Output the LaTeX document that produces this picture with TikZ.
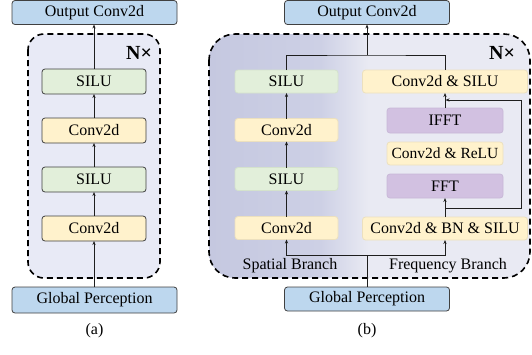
\documentclass[tikz,border=0pt]{standalone}
\usepackage{fontspec}
\setmainfont{Liberation Serif}
\newfontfamily\figfont{Liberation Serif}
\usepackage{xcolor}
\usetikzlibrary{arrows.meta}

\definecolor{custcol_bgL}{RGB}{197, 200, 224}
\definecolor{custcol_bgM}{RGB}{205, 208, 229}
\definecolor{custcol_bgR}{RGB}{233, 234, 243}
\pgfdeclarehorizontalshading{branchfade}{100bp}{color(0bp)=(custcol_bgL); color(25bp)=(custcol_bgL); color(60bp)=(custcol_bgM); color(75bp)=(custcol_bgR); color(100bp)=(custcol_bgR)}

\begin{document}
\begin{tikzpicture}[x=1pt,y=-1pt,
  font=\figfont\fontsize{16pt}{18pt}\selectfont,
  arr/.style={-{Stealth[length=4pt,width=3.2pt]}, line width=0.8pt, custcol_line},
  wire/.style={line width=0.8pt, custcol_line},
  blk/.style={rounded corners=3pt, inner sep=0, outer sep=0, line width=0.8pt},
  bluebox/.style={blk, draw=custcol_dark, fill=custcol_blue, minimum width=165pt, minimum height=24pt},
  yelA/.style={blk, draw=custcol_dark, fill=custcol_yel, minimum width=104pt, minimum height=25pt},
  grnA/.style={blk, draw=custcol_dark, fill=custcol_grn, minimum width=104pt, minimum height=25pt},
  yelB/.style={blk, draw=custcol_yelline, fill=custcol_yel, minimum height=23pt},
  grnB/.style={blk, draw=custcol_grnline, fill=custcol_grn, minimum height=23pt},
  purB/.style={blk, draw=custcol_purline, fill=custcol_pur, minimum height=25pt},
  dashbox/.style={draw=black, line width=1.6pt, dash pattern=on 6pt off 4pt}]
\definecolor{custcol_line}{RGB}{30, 30, 30}
\definecolor{custcol_dark}{RGB}{64, 64, 64}
\definecolor{custcol_blue}{RGB}{189, 215, 238}
\definecolor{custcol_yel}{RGB}{255, 242, 204}
\definecolor{custcol_yelline}{RGB}{236, 224, 190}
\definecolor{custcol_grn}{RGB}{226, 239, 218}
\definecolor{custcol_grnline}{RGB}{212, 226, 204}
\definecolor{custcol_pur}{RGB}{210, 193, 225}
\definecolor{custcol_purline}{RGB}{200, 184, 216}
\definecolor{custcol_bgA}{RGB}{232, 234, 246}
\useasboundingbox (0,0) rectangle (532,354);
% (a) plain stack
\fill [custcol_bgA, rounded corners=16pt]  (28,34) rectangle (160,278) ;
\draw [dashbox, rounded corners=16pt]  (28,34) rectangle (160,278) ;
\node[font=\figfont\fontsize{20pt}{20pt}\selectfont\bfseries] (nA) at (139,53) {N\texttimes};
\node[bluebox] (outA) at (94.5,12.5) {Output Conv2d};
\node[grnA] (silA2) at (94,81.5) {SILU};
\node[yelA] (convA2) at (94,130.5) {Conv2d};
\node[grnA] (silA1) at (94,179.5) {SILU};
\node[yelA] (convA1) at (94,228.5) {Conv2d};
\node[bluebox, minimum height=26pt] (gpA) at (94.5,300) {Global Perception};
\node (capA) at (94.5,331) {(a)};
\draw [arr] (gpA.north -| convA1) -- (convA1.south) ;
\draw [arr] (convA1.north) -- (silA1.south) ;
\draw [arr] (silA1.north) -- (convA2.south) ;
\draw [arr] (convA2.north) -- (silA2.south) ;
\draw [arr] (silA2.north) -- (silA2.north |- outA.south) ;
% (b) two branches
\fill [custcol_bgR, rounded corners=26pt]  (209,34) rectangle (530,278) ;
\begin{scope}
\clip [rounded corners=26pt]  (209,34) rectangle (530,278) ;
\shade [shading=branchfade]  (209,34) rectangle (368,278) ;
\end{scope}
\draw [dashbox, rounded corners=26pt]  (209,34) rectangle (530,278) ;
\node[font=\figfont\fontsize{20pt}{20pt}\selectfont\bfseries] (nB) at (502,53) {N\texttimes};
\node[bluebox] (outB) at (367,12.5) {Output Conv2d};
\node[grnB, minimum width=103pt] (silB2) at (286.5,81.5) {SILU};
\node[yelB, minimum width=103pt] (convB2) at (286.5,130) {Conv2d};
\node[grnB, minimum width=103pt] (silB1) at (286.5,179) {SILU};
\node[yelB, minimum width=103pt] (convB1) at (286.5,228) {Conv2d};
\node[yelB, minimum width=165pt] (cs) at (445,81.5) {Conv2d \& SILU};
\node[purB, minimum width=116pt] (ifft) at (445,120.5) {IFFT};
\node[yelB, minimum width=116pt, font=\figfont\fontsize{15.5pt}{16pt}\selectfont] (cr) at (445,153.5) {Conv2d \& ReLU};
\node[purB, minimum width=116pt, minimum height=24pt] (fft) at (445,186) {FFT};
\node[yelB, minimum width=165pt] (cbs) at (445,228.5) {Conv2d \& BN \& SILU};
\node[bluebox] (gpB) at (367,299) {Global Perception};
\node (spB) at (290,266) {Spatial Branch};
\node (frB) at (448,266) {Frequency Branch};
\node (capB) at (367,331) {(b)};
\coordinate (topB) at (367,55);
\coordinate (botB) at (367,255);
\coordinate (fbA) at (445,208);
\coordinate (fbLow) at (521,208);
\coordinate (fbHigh) at (521,100);
\coordinate (fbIn) at (445.5,100);
\draw [wire] (gpB.north) -- (botB) ;
\draw [arr] (botB) -| (convB1.south) ;
\draw [arr] (botB) -| (cbs.south) ;
\draw [arr] (convB1.north) -- (silB1.south) ;
\draw [arr] (silB1.north) -- (convB2.south) ;
\draw [arr] (convB2.north) -- (silB2.south) ;
\draw [wire] (silB2.north) |- (topB) -| (cs.north) ;
\draw [arr] (topB) -- (outB.south) ;
\draw [arr] (cbs.north) -- (fft.south) ;
\draw [arr] (ifft.north) -- (cs.south) ;
\draw [arr] (fbA) -- (fbLow) -- (fbHigh) -- (fbIn) ;
\end{tikzpicture}
\end{document}
